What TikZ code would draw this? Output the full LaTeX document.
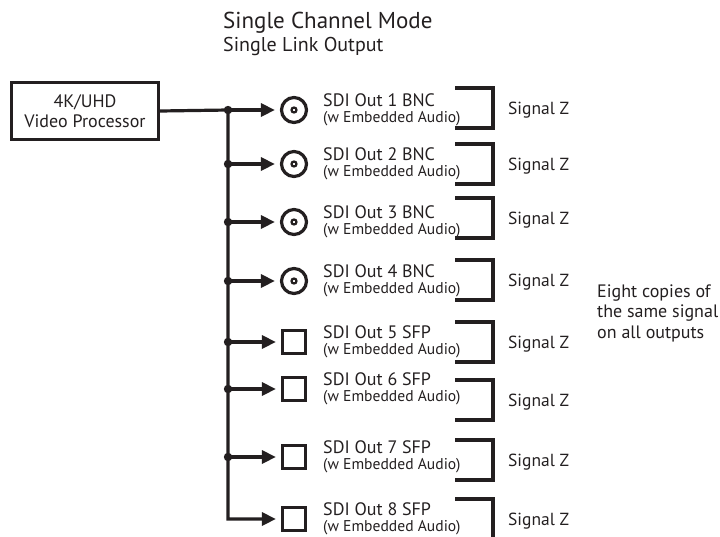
\documentclass[tikz,border=0pt]{standalone}
\usepackage{fontspec}
\setmainfont{PT Sans}
\usetikzlibrary{arrows.meta}
\definecolor{ink}{HTML}{231F20}
\tikzset{
	wire/.style={draw=ink, line width=3.2pt},
	feed/.style={wire, -{Triangle[length=14pt,width=13pt]}, shorten >=5pt},
	bnc/.style={circle, draw=ink, line width=3.2pt, minimum size=25pt, inner sep=0pt},
	sfp/.style={rectangle, draw=ink, line width=3.2pt, minimum size=23pt, inner sep=0pt},
	portname/.style={anchor=base west, inner sep=0pt, text=ink, font=\fontsize{18}{20}\selectfont},
	portnote/.style={anchor=base west, inner sep=0pt, text=ink, font=\fontsize{15.6}{17}\selectfont},
	plain/.style={inner sep=0pt, text=ink, font=\fontsize{17.5}{20.5}\selectfont}
}
\begin{document}
\begin{tikzpicture}[x=1pt, y=-1pt]
	\useasboundingbox (0,0) rectangle (720,536);
	% titles
	\node[plain, anchor=base west, font=\fontsize{23}{26}\selectfont] (title) at (223,28) {Single Channel Mode};
	\node[plain, anchor=base west, font=\fontsize{20}{24}\selectfont] (subtitle) at (223,51) {Single Link Output};
	% source
	\node[draw=ink, line width=3.2pt, minimum width=147pt, minimum height=57pt,
		align=center, text=ink, font=\fontsize{18}{20}\selectfont] (proc) at (85,111) {4K/UHD\\Video Processor};
	% outputs
	\foreach \i/\y/\s/\kind/\conn in {1/110/108/bnc/BNC, 2/164/164/bnc/BNC, 3/222/218/bnc/BNC, 4/281/280/bnc/BNC,
			5/342/342/sfp/SFP, 6/389/400/sfp/SFP, 7/457/460/sfp/SFP, 8/519/519/sfp/SFP} {
		\coordinate (tap\i) at (228,\y);
		\node[\kind] (port\i) at (294,\y) {};
		\node[portname] (name\i) at (323,\y-4) {SDI Out \i\ \conn};
		\node[portnote] (note\i) at (323,\y+12.5) {(w Embedded Audio)};
		\draw[wire] (455,\s-20) -- (493,\s-20) -- (493,\s+20) -- (455,\s+20);
		\node[plain, anchor=base west] (sig\i) at (508,\s+6.5) {Signal Z};
	}
	\foreach \i in {1,...,4}
		\draw[ink, line width=2.2pt] (port\i.center) circle (2.5pt);
	% distribution
	\draw[feed] (proc.east) -- (tap1) -- (tap8) -- (port8.west);
	\foreach \i in {1,...,7} {
		\draw[feed] (tap\i) -- (port\i.west);
		\fill[ink] (tap\i) circle (4.2pt);
	}
	\node[plain, anchor=west, align=left, font=\fontsize{18}{20.5}\selectfont] (remark) at (597,313) {Eight copies of\\the same signal\\on all outputs};
\end{tikzpicture}
\end{document}
